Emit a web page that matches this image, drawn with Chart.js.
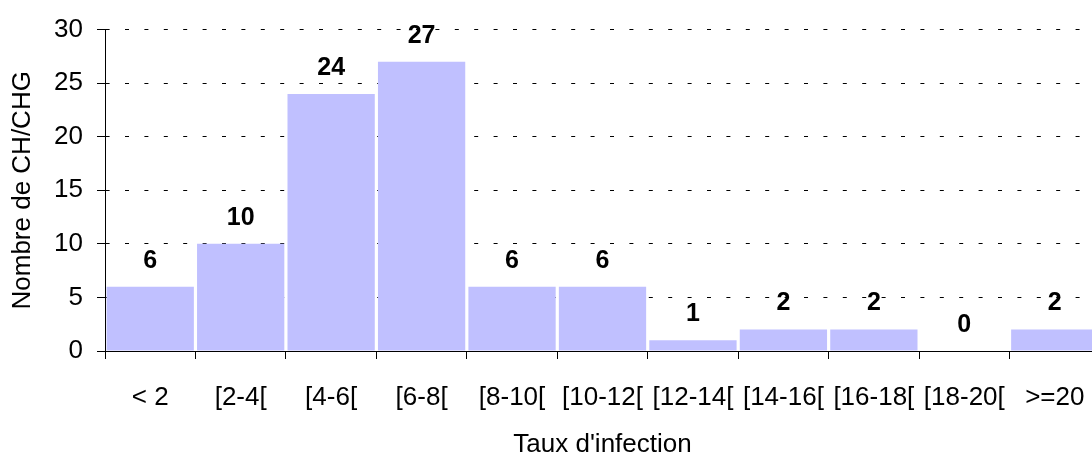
<!DOCTYPE html>
<html>
<head>
<meta charset="utf-8">
<script src="https://cdn.jsdelivr.net/npm/chart.js@4.4.1/dist/chart.umd.min.js"></script>
<style>
  html, body { margin: 0; padding: 0; background: #fff; }
  /* the plot runs a little past the right edge, as in the original */
  #wrap { width: 1092px; height: 460px; overflow: hidden; }
</style>
</head>
<body>
<div id="wrap"><canvas id="chart" width="1100" height="460"></canvas></div>
<script>
const categories = ["< 2", "[2-4[", "[4-6[", "[6-8[", "[8-10[", "[10-12[", "[12-14[", "[14-16[", "[16-18[", "[18-20[", ">=20"];
const counts = [6, 10, 24, 27, 6, 6, 1, 2, 2, 0, 2];
const yTicks = [0, 5, 10, 15, 20, 25, 30];

const FONT = "'Liberation Sans', Arial, sans-serif";

// values above the bars
const barLabels = {
  id: "barLabels",
  afterDatasetsDraw(chart) {
    const ctx = chart.ctx;
    const meta = chart.getDatasetMeta(0);
    ctx.save();
    ctx.font = "bold 25px " + FONT;
    ctx.fillStyle = "#000";
    ctx.textAlign = "center";
    ctx.textBaseline = "middle";
    meta.data.forEach((bar, i) => {
      ctx.fillText(String(counts[i]), bar.x, bar.y - 26);
    });
    ctx.restore();
  }
};

new Chart(document.getElementById("chart").getContext("2d"), {
  type: "bar",
  data: {
    labels: categories,
    datasets: [{
      data: counts,
      backgroundColor: "#c0c0ff",
      borderWidth: 0,
      barPercentage: 0.965,
      categoryPercentage: 1
    }]
  },
  options: {
    responsive: false,
    animation: false,
    layout: { padding: { top: 24, right: 0, left: 0, bottom: 0 } },
    plugins: {
      legend: { display: false },
      tooltip: { enabled: false }
    },
    scales: {
      x: {
        grid: {
          offset: true,
          drawOnChartArea: false,
          drawTicks: true,
          tickLength: 8,
          tickColor: "#000",
          tickWidth: 1
        },
        border: { color: "#000", width: 1 },
        ticks: {
          color: "#000",
          font: { family: FONT, size: 26 },
          padding: 23,
          maxRotation: 0,
          minRotation: 0,
          autoSkip: false
        },
        title: {
          display: true,
          text: "Taux d'infection",
          color: "#000",
          font: { family: FONT, size: 26 },
          padding: { top: 0, bottom: 0 }
        },
        afterFit(scale) {
          scale.height = 109;
          scale.paddingLeft = 0;
          scale.paddingRight = 0;
        }
      },
      y: {
        min: 0,
        max: 30,
        afterBuildTicks(scale) { scale.ticks = yTicks.map(v => ({ value: v })); },
        grid: {
          color: "#000",
          lineWidth: 1,
          drawTicks: true,
          tickLength: 8,
          tickColor: "#000",
          tickBorderDash: [],
          tickWidth: 1
        },
        border: { color: "#000", width: 1, dash: [4, 15.4], dashOffset: -19 },
        ticks: {
          color: "#000",
          font: { family: FONT, size: 26 },
          padding: 14
        },
        title: {
          display: true,
          text: "Nombre de CH/CHG",
          color: "#000",
          font: { family: FONT, size: 26 },
          padding: { top: 7, bottom: 0 }
        },
        afterFit(scale) { scale.width = 105; }
      }
    }
  },
  plugins: [barLabels]
});
</script>
</body>
</html>
